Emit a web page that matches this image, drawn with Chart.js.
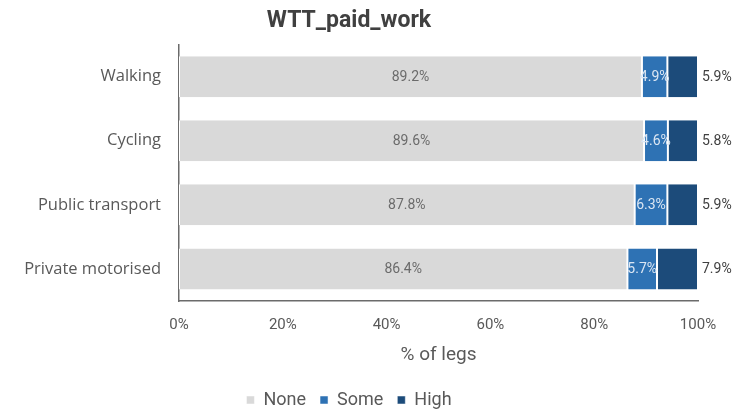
<!DOCTYPE html>
<html>
<head>
<meta charset="utf-8">
<script src="https://cdn.jsdelivr.net/npm/chart.js@4"></script>
<style>
  html, body { margin: 0; padding: 0; background: #fff; }
  #wrap { width: 743px; height: 419px; }
</style>
</head>
<body>
<div id="wrap"><canvas id="chart" width="743" height="419"></canvas></div>
<script>
// 数据
const categories = ['Walking', 'Cycling', 'Public transport', 'Private motorised'];
const noneValues = [89.2, 89.6, 87.8, 86.4];
const someValues = [4.9, 4.6, 6.3, 5.7];
const highValues = [5.9, 5.8, 5.9, 7.9];
const xTicks = [0, 20, 40, 60, 80, 100];

// 百分比标签
const barLabels = {
    id: 'barLabels',
    afterDatasetsDraw(chart) {
        const ctx = chart.ctx;
        ctx.save();
        ctx.textBaseline = 'middle';
        chart.data.datasets.forEach((ds, di) => {
            const meta = chart.getDatasetMeta(di);
            meta.data.forEach((bar, i) => {
                const text = ds.data[i].toFixed(1) + '%';
                if (di === 2) {
                    ctx.font = '14px Roboto';
                    ctx.fillStyle = '#404040';
                    ctx.textAlign = 'left';
                    ctx.fillText(text, bar.x + 4, bar.y + 1);
                } else {
                    ctx.font = '14px Roboto';
                    ctx.fillStyle = di === 0 ? '#6b6b6b' : '#dbe6f3';
                    ctx.textAlign = 'center';
                    ctx.fillText(text, (bar.x + bar.base) / 2, bar.y + 1);
                }
            });
        });
        ctx.restore();
    }
};

new Chart(document.getElementById('chart'), {
    type: 'bar',
    data: {
        labels: categories,
        datasets: [
            { label: 'None', data: noneValues, backgroundColor: '#d9d9d9' },
            { label: 'Some', data: someValues, backgroundColor: '#2e72b4' },
            { label: 'High', data: highValues, backgroundColor: '#1c4b7a' }
        ]
    },
    options: {
        indexAxis: 'y',
        responsive: false,
        animation: false,
        layout: { padding: { left: 0, right: 45, top: 0, bottom: 0 } },
        datasets: {
            bar: {
                barPercentage: 0.8,
                categoryPercentage: 0.8,
                borderColor: '#ffffff',
                borderWidth: { left: 1, right: 1, top: 0, bottom: 0 },
                borderSkipped: false
            }
        },
        scales: {
            x: {
                stacked: true,
                min: 0,
                max: 100,
                afterBuildTicks: s => { s.ticks = xTicks.map(v => ({ value: v })); },
                afterFit: s => { s.height = 76; },
                grid: { display: false, drawTicks: false },
                border: { display: true, color: '#6b6b6b', width: 1.5 },
                ticks: {
                    padding: 15,
                    color: '#595959',
                    font: { family: 'Roboto', size: 15 },
                    callback: v => v + '%'
                },
                title: {
                    display: true,
                    text: '% of legs',
                    color: '#595959',
                    font: { family: 'Roboto', size: 19 },
                    padding: { top: 0, bottom: 10 }
                }
            },
            y: {
                stacked: true,
                afterFit: s => { s.width = 179; },
                grid: { display: false, drawTicks: false },
                border: { display: true, color: '#6b6b6b', width: 1.5 },
                ticks: {
                    padding: 18,
                    color: '#595959',
                    font: { family: 'Open Sans', size: 16.5 }
                }
            }
        },
        plugins: {
            title: {
                display: true,
                text: 'WTT_paid_work',
                color: '#404040',
                font: { family: 'Roboto', size: 23, weight: 'bold' },
                padding: { top: 7, bottom: 10 }
            },
            legend: {
                position: 'bottom',
                labels: {
                    boxWidth: 8,
                    boxHeight: 8,
                    padding: 14,
                    color: '#595959',
                    font: { family: 'Roboto', size: 18 }
                }
            },
            tooltip: { enabled: false }
        }
    },
    plugins: [barLabels]
});
</script>
</body>
</html>
